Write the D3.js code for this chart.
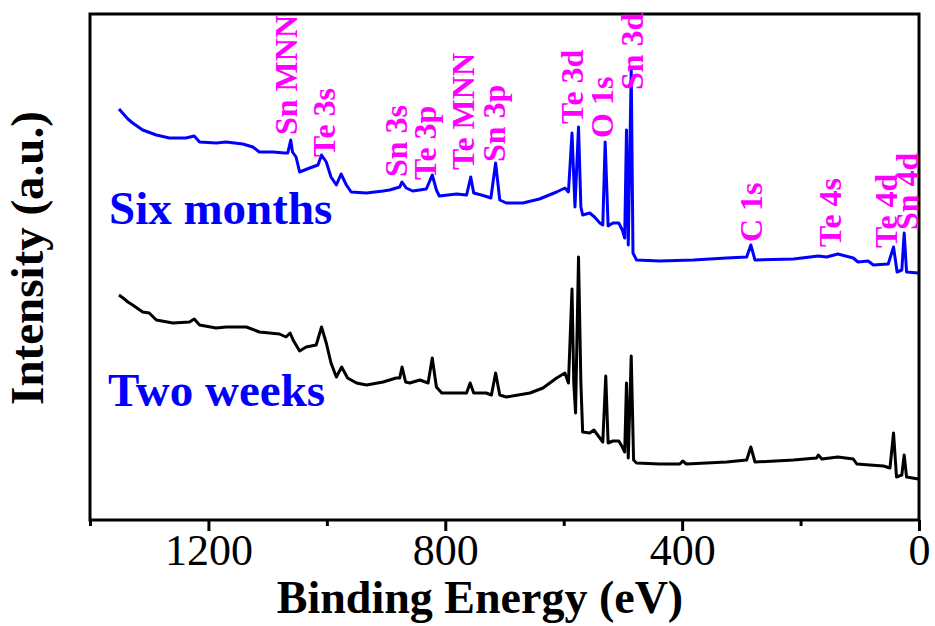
<!DOCTYPE html>
<html>
    <head>
        <title>XPS survey</title>
        <meta charset="UTF-8">
        <script src="https://d3js.org/d3.v7.min.js"></script>
        <style>
            body { margin: 0; background: #fff; }
            text { font-family: "Liberation Serif", "Times New Roman", serif; }
        </style>
    </head>
    <body>
        <script>
// binding energy (eV) and intensity (a.u.)
var sixMonthsBE = [1351, 1342, 1336, 1328, 1311, 1288, 1266, 1238, 1224, 1215, 1187, 1170, 1142, 1125, 1114, 1091, 1071, 1066, 1061, 1058, 1052, 1046, 1029, 1015, 1009, 1001, 993, 984, 976, 967, 959, 933, 905, 894, 877, 873, 866, 855, 832, 822, 815, 810, 781, 764, 757, 752, 739, 728, 723, 715, 708, 697, 669, 641, 612, 598, 592, 586, 581, 575, 571, 568, 556, 548, 539, 534, 530, 525, 517, 507, 501, 497, 494, 491, 486, 483, 477, 438, 381, 325, 291, 284, 277, 212, 170, 156, 137, 111, 103, 86, 77, 52, 43, 37, 29, 25, 21, 1];
var sixMonthsI = [411, 405, 401, 397, 390, 385, 382, 382, 384, 378, 377, 378, 376, 373, 368, 368, 367, 367, 380, 368, 363, 348, 352, 355, 365, 358, 343, 335, 346, 335, 328, 327, 329, 330, 333, 338, 332, 329, 331, 345, 330, 324, 326, 325, 343, 327, 325, 323, 322, 357, 320, 317, 317, 321, 328, 332, 328, 387, 313, 393, 313, 305, 307, 303, 297, 295, 378, 294, 297, 297, 290, 282, 390, 275, 450, 267, 260, 259, 260, 262, 263, 275, 260, 261, 264, 263, 266, 262, 258, 259, 255, 256, 273, 248, 250, 287, 248, 247];

var twoWeeksBE = [1351, 1342, 1336, 1328, 1311, 1300, 1288, 1260, 1232, 1224, 1215, 1187, 1170, 1136, 1114, 1080, 1069, 1062, 1057, 1052, 1046, 1035, 1018, 1009, 1001, 993, 984, 975, 965, 950, 933, 905, 883, 877, 873, 867, 860, 843, 829, 822, 815, 806, 781, 764, 758, 752, 731, 722, 715, 708, 697, 657, 635, 612, 598, 592, 586, 583, 580, 575, 571, 568, 556, 549, 539, 534, 529, 525, 517, 507, 501, 497, 494, 491, 486, 482, 477, 438, 404, 399, 393, 325, 291, 284, 277, 212, 173, 170, 164, 137, 111, 105, 83, 60, 49, 43, 38, 29, 25, 21, 1];
var twoWeeksI = [225, 221, 218, 215, 208, 207, 200, 197, 198, 201, 195, 192, 193, 193, 188, 186, 183, 187, 180, 175, 169, 173, 175, 193, 177, 157, 143, 153, 142, 137, 135, 138, 142, 142, 153, 138, 137, 140, 137, 162, 133, 127, 127, 127, 137, 127, 127, 125, 147, 125, 123, 127, 132, 142, 147, 137, 231, 137, 107, 263, 137, 88, 87, 90, 82, 78, 144, 77, 79, 79, 73, 68, 137, 62, 164, 60, 57, 56, 56, 59, 56, 58, 60, 73, 58, 60, 62, 65, 61, 63, 61, 56, 55, 54, 52, 87, 43, 45, 65, 43, 41];

var peakNames = ["Sn MNN", "Te 3s", "Sn 3s", "Te 3p", "Te MNN", "Sn 3p", "Te 3d", "O 1s", "Sn 3d", "C 1s", "Te 4s", "Te 4d", "Sn 4d"];
var peakLabelBE = [1051, 987, 865, 815, 752, 700, 568, 517, 466, 265, 132, 37, 2];
var peakLabelI = [385, 363, 343, 340, 350, 358, 396, 382, 430, 278, 273, 272, 290];

var majorTicks = [1200, 800, 400, 0];
var minorTicks = [1400, 1000, 600, 200];

var Width = 935, Height = 626;
var plotLeft = 90, plotRight = 919, plotTop = 14, plotBottom = 520;

var svg = d3.select("body")
            .append("svg")
            .attr("width", Width)
            .attr("height", Height);

var x = d3.scaleLinear().domain([1400, 0]).range([plotLeft, plotRight]);
var y = d3.scaleLinear().domain([0, 506]).range([plotBottom, plotTop]);

function draw_curve(be, inten, color){
    var pts = be.map(function(d, i){ return [d, inten[i]]; });
    var line = d3.line()
                 .x(function(d){ return x(d[0]); })
                 .y(function(d){ return y(d[1]); });
    svg.append("path")
       .attr("d", line(pts))
       .attr("fill", "none")
       .attr("stroke", color)
       .attr("stroke-width", 3)
       .attr("stroke-linejoin", "round");
}

draw_curve(twoWeeksBE, twoWeeksI, "#000");
draw_curve(sixMonthsBE, sixMonthsI, "#0000ff");

// frame
svg.append("rect")
   .attr("x", plotLeft).attr("y", plotTop)
   .attr("width", plotRight - plotLeft).attr("height", plotBottom - plotTop)
   .attr("fill", "none")
   .attr("stroke", "#000")
   .attr("stroke-width", 3);

// bottom axis, major + minor ticks
var xAxis = d3.axisBottom(x).tickValues(majorTicks).tickSize(11).tickPadding(3).tickFormat(d3.format("d"));
var gx = svg.append("g")
            .attr("transform", "translate(0," + plotBottom + ")")
            .call(xAxis);
gx.select(".domain").remove();
gx.selectAll("line").attr("stroke-width", 3);
gx.selectAll("text")
  .attr("font-size", 44)
  .attr("fill", "#000")
  .style("font-family", "Liberation Serif");

var xMinor = d3.axisBottom(x).tickValues(minorTicks).tickSize(6).tickFormat("");
var gm = svg.append("g")
            .attr("transform", "translate(0," + plotBottom + ")")
            .call(xMinor);
gm.select(".domain").remove();
gm.selectAll("line").attr("stroke-width", 3);

// axis titles
svg.append("text")
   .attr("x", 480).attr("y", 613)
   .attr("text-anchor", "middle")
   .attr("font-size", 46)
   .attr("font-weight", "bold")
   .text("Binding Energy (eV)");

svg.append("text")
   .attr("transform", "translate(43,258) rotate(-90)")
   .attr("text-anchor", "middle")
   .attr("font-size", 47)
   .attr("font-weight", "bold")
   .text("Intensity (a.u.)");

// peak labels
svg.selectAll(".peak")
   .data(peakNames)
   .enter()
   .append("text")
   .attr("class", "peak")
   .attr("transform", function(d, i){
        return "translate(" + x(peakLabelBE[i]) + "," + y(peakLabelI[i]) + ") rotate(-90)";
   })
   .attr("font-size", 32)
   .attr("font-weight", "bold")
   .attr("fill", "#ff00ff")
   .text(function(d){ return d; });

// series names
svg.append("text")
   .attr("x", 109).attr("y", 224)
   .attr("font-size", 47)
   .attr("font-weight", "bold")
   .attr("fill", "#0000ff")
   .text("Six months");

svg.append("text")
   .attr("x", 108).attr("y", 406)
   .attr("font-size", 47)
   .attr("font-weight", "bold")
   .attr("fill", "#0000ff")
   .text("Two weeks");
        </script>
    </body>
</html>
